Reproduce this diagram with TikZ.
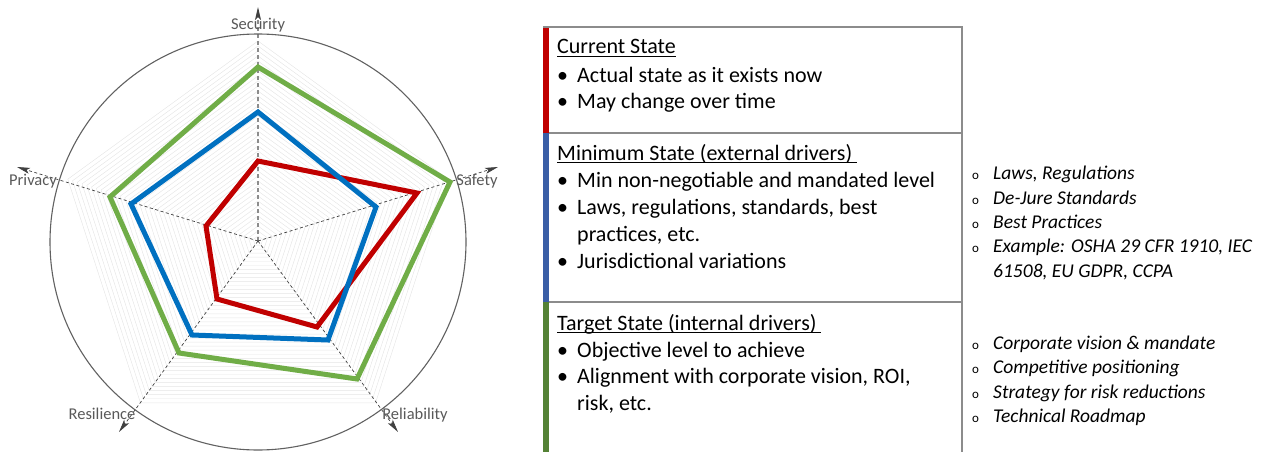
\documentclass[tikz,border=0pt]{standalone}
\usepackage{fontspec}
\setmainfont{Carlito}
\usetikzlibrary{arrows.meta}
\definecolor{cred}{HTML}{C00000}
\definecolor{cblue}{HTML}{0070C0}
\definecolor{cgreen}{HTML}{70AD47}
\definecolor{bblue}{HTML}{3A5EA6}
\definecolor{bgreen}{HTML}{548235}
\definecolor{lbl}{HTML}{595959}
\definecolor{axisgray}{HTML}{404040}
\newcommand\myul[1]{\setbox0\hbox{#1}\rlap{\rule[-3.2pt]{\wd0}{1.1pt}}\box0}
\begin{document}
\begin{tikzpicture}[x=1pt,y=-1pt,
  series/.style={line width=5pt, line join=miter},
  gridline/.style={draw=black!10, line width=0.45pt},
  axisline/.style={draw=axisgray, line width=0.7pt, dash pattern=on 3pt off 2.5pt, -{Stealth[length=13pt,width=6pt,inset=3pt,color=axisgray]}},
  secaxis/.style={draw=black!45, line width=1.1pt, dash pattern=on 4pt off 3pt, -{Stealth[length=13pt,width=6pt,inset=3pt,color=axisgray]}},
  axislabel/.style={text=lbl, font=\fontsize{16.5}{20}\selectfont, inner sep=0pt, anchor=base},
  maintxt/.style={anchor=base west, inner sep=0pt, font=\fontsize{22}{27}\selectfont},
  sidetxt/.style={anchor=base west, inner sep=0pt, font=\fontsize{19.5}{24}\selectfont\itshape},
  sidebul/.style={anchor=base west, inner sep=0pt, font=\fontsize{13}{16}\selectfont},
  border/.style={draw=black!45, line width=1.2pt}
]
\useasboundingbox (0,0) rectangle (1269,452);
% ---------- radar chart ----------
\coordinate (C) at (258,241);
\foreach \r in {5,10,...,200} {
  \draw[gridline] ({258+\r*cos(90)},{241-\r*sin(90)})
    -- ({258+\r*cos(18)},{241-\r*sin(18)})
    -- ({258+\r*cos(-54)},{241-\r*sin(-54)})
    -- ({258+\r*cos(-126)},{241-\r*sin(-126)})
    -- ({258+\r*cos(162)},{241-\r*sin(162)}) -- cycle;
}
\coordinate (tSec) at (258,7);
\coordinate (tSaf) at (498,167);
\coordinate (tRel) at (398,432);
\coordinate (tRes) at (119,432);
\coordinate (tPri) at (17,167);
\draw[secaxis] (C) -- (tSec);
\draw[axisline] (C) -- (tSaf);
\draw[axisline] (C) -- (tRel);
\draw[axisline] (C) -- (tRes);
\draw[axisline] (C) -- (tPri);
\coordinate (O) at (258,242);
\draw[draw=black!62, line width=1.1pt] (O) circle[radius=208];
% series
\coordinate (r1) at (258,161); \coordinate (r2) at (417,193); \coordinate (r3) at (317,327);
\coordinate (r4) at (217,299); \coordinate (r5) at (206,226);
\coordinate (b1) at (258,112); \coordinate (b2) at (376,207); \coordinate (b3) at (328,340);
\coordinate (b4) at (192,335); \coordinate (b5) at (131,204);
\coordinate (g1) at (258,67); \coordinate (g2) at (450,182); \coordinate (g3) at (357,379);
\coordinate (g4) at (179,353); \coordinate (g5) at (110,197);
\draw[series, cred] (r1) -- (r2) -- (r3) -- (r4) -- (r5) -- cycle;
\draw[series, cblue] (b1) -- (b2) -- (b3) -- (b4) -- (b5) -- cycle;
\draw[series, cgreen] (g1) -- (g2) -- (g3) -- (g4) -- (g5) -- cycle;
% labels
\node[axislabel] (lSec) at (258,29.5) {Security};
\node[axislabel] (lSaf) at (477,185) {Safety};
\node[axislabel] (lPri) at (33,185) {Privacy};
\node[axislabel] (lRes) at (102,419) {Resilience};
\node[axislabel] (lRel) at (415,419) {Reliability};
% ---------- table ----------
\fill[cred] (543,27) rectangle (549,133);
\fill[bblue] (543,133) rectangle (549,302);
\fill[bgreen] (543,302) rectangle (549,452);
\draw[border] (543,27) -- (962,27) -- (962,452);
\draw[border] (549,133) -- (962,133);
\draw[border] (549,302) -- (962,302);
% row 1
\node[maintxt] (t1) at (557,54) {\myul{Current State}};
\node[maintxt] (b11) at (557,82) {•};
\node[maintxt] (x11) at (577,82) {Actual state as it exists now};
\node[maintxt] (b12) at (557,108) {•};
\node[maintxt] (x12) at (577,108) {May change over time};
% row 2
\node[maintxt] (t2) at (557,160) {\myul{Minimum State (external drivers)\ }};
\node[maintxt] (b21) at (557,187) {•};
\node[maintxt] (x21) at (577,187) {Min non-negotiable and mandated level};
\node[maintxt] (b22) at (557,214) {•};
\node[maintxt] (x22) at (577,214) {Laws, regulations, standards, best};
\node[maintxt] (x22b) at (577,241) {practices, etc.};
\node[maintxt] (b23) at (557,268) {•};
\node[maintxt] (x23) at (577,268) {Jurisdictional variations};
% row 3
\node[maintxt] (t3) at (557,330) {\myul{Target State (internal drivers)\ }};
\node[maintxt] (b31) at (557,357) {•};
\node[maintxt] (x31) at (577,357) {Objective level to achieve};
\node[maintxt] (b32) at (557,383) {•};
\node[maintxt] (x32) at (577,383) {Alignment with corporate vision, ROI,};
\node[maintxt] (x32b) at (577,410) {risk, etc.};
% side list 1
\node[sidebul] (s11) at (972,179) {o};
\node[sidetxt] (y11) at (993,179) {Laws, Regulations};
\node[sidebul] (s12) at (972,204) {o};
\node[sidetxt] (y12) at (993,204) {De-Jure Standards};
\node[sidebul] (s13) at (972,228) {o};
\node[sidetxt] (y13) at (993,228) {Best Practices};
\node[sidebul] (s14) at (972,252) {o};
\node[sidetxt] (y14) at (993,252) {Example: OSHA 29 CFR 1910, IEC};
\node[sidetxt] (y14b) at (993,277) {61508, EU GDPR, CCPA};
% side list 2
\node[sidebul] (s21) at (972,349) {o};
\node[sidetxt] (y21) at (993,349) {Corporate vision \& mandate};
\node[sidebul] (s22) at (972,373) {o};
\node[sidetxt] (y22) at (993,373) {Competitive positioning};
\node[sidebul] (s23) at (972,398) {o};
\node[sidetxt] (y23) at (993,398) {Strategy for risk reductions};
\node[sidebul] (s24) at (972,422) {o};
\node[sidetxt] (y24) at (993,422) {Technical Roadmap};
\end{tikzpicture}
\end{document}
